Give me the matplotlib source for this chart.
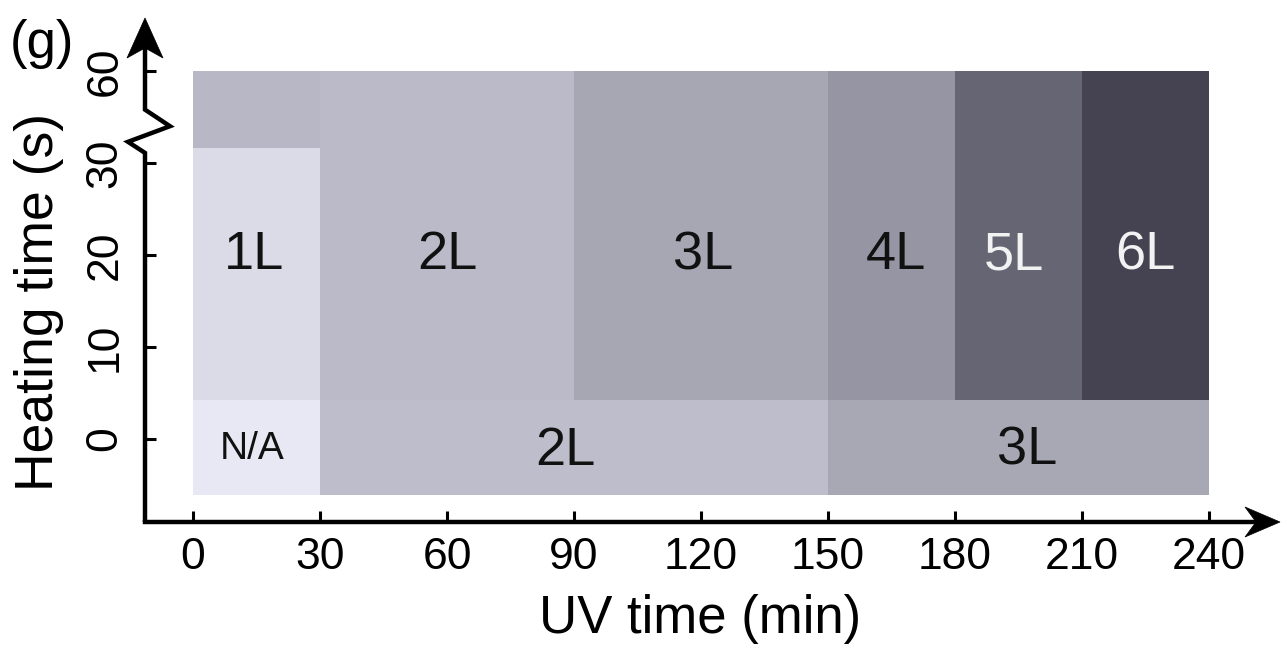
import matplotlib
matplotlib.use("Agg")
import matplotlib.pyplot as plt
import matplotlib.transforms as mtransforms
from matplotlib.patches import Rectangle, Polygon

plt.rcParams["font.family"] = ["Liberation Sans", "DejaVu Sans"]

# UV time edges (min) and heating-time extents (axis units, 60 s drawn at 40)
region_x0 = [0, 0, 30, 90, 150, 180, 210, 0, 30, 150]
region_x1 = [30, 30, 90, 150, 180, 210, 240, 30, 150, 240]
region_y0 = [31.6, 4.2, 4.2, 4.2, 4.2, 4.2, 4.2, -6.1, -6.1, -6.1]
region_y1 = [40, 31.6, 40, 40, 40, 40, 40, 4.2, 4.2, 4.2]
region_colors = ["#b7b7c5", "#dbdbe8", "#babac8", "#a7a7b4", "#9695a3",
                 "#666573", "#454351", "#e8e8f4", "#bdbdcb", "#a8a8b5"]

label_text = ["1L", "2L", "3L", "4L", "5L", "6L", "N/A", "2L", "3L"]
label_x = [14.5, 60, 120.5, 166, 194, 225, 14, 88, 197]
label_y = [20, 20, 20, 20, 20, 20, -1.1, -1.3, -1.3]
label_color = ["#111111"] * 4 + ["#f2f2f2", "#f2f2f2"] + ["#111111"] * 3
label_size = [39, 39, 39, 39, 39, 39, 28, 39, 39]

x_ticks = [0, 30, 60, 90, 120, 150, 180, 210, 240]
y_ticks = [0, 10, 20, 30, 40]
y_tick_labels = ["0", "10", "20", "30", "60"]

W, H = 1281, 651
fig = plt.figure(figsize=(W / 100, H / 100), dpi=100)
ax = fig.add_axes([145 / W, (H - 522) / H, (1280 - 145) / W, (522 - 18) / H])
ax.set_xlim(-11.34, 240 + 71 / 4.233)
ax.set_ylim(-9.02, 45.76)

for x0, x1, y0, y1, c in zip(region_x0, region_x1, region_y0, region_y1, region_colors):
    ax.add_patch(Rectangle((x0, y0), x1 - x0, y1 - y0, facecolor=c, edgecolor="none"))

for t, x, y, c, s in zip(label_text, label_x, label_y, label_color, label_size):
    ax.text(x, y, t, ha="center", va="center", color=c, fontsize=s)

for sp in ax.spines.values():
    sp.set_visible(False)

ax.set_xticks(x_ticks)
ax.set_xticklabels([str(v) for v in x_ticks])
ax.set_yticks(y_ticks)
ax.set_yticklabels(y_tick_labels, rotation=90, va="center")
ax.tick_params(direction="in", length=8, width=2.2, labelsize=32, color="k")
ax.tick_params(axis="x", pad=11)
ax.tick_params(axis="y", pad=14)

lw = 3.2


def arrow_head(anchor, angle):
    # stealth-like head drawn in pixel units, tip at the anchor (axes fraction)
    if angle == 0:
        pts = [(0, 0), (-35, 15), (-24, 0), (-35, -15)]
    else:
        pts = [(0, 0), (-18, -40), (0, -30), (18, -40)]
    tr = fig.dpi_scale_trans + mtransforms.ScaledTranslation(anchor[0], anchor[1], ax.transAxes)
    ax.add_patch(Polygon([(px / 100, py / 100) for px, py in pts], closed=True,
                         facecolor="k", edgecolor="k", lw=0.5, transform=tr,
                         clip_on=False))


# x axis with arrow
ax.plot([0, 1 - 20 / 1135], [0, 0], color="k", lw=lw, transform=ax.transAxes,
        clip_on=False, solid_capstyle="projecting")
arrow_head((1, 0), 0)

# y axis with break
yt = ax.get_yaxis_transform()
ax.plot([0, 0, -0.015, 0.022, 0, 0], [-9.02, 31.1, 32.3, 34.0, 35.8, 44.0],
        color="k", lw=lw, transform=yt, clip_on=False, solid_joinstyle="miter",
        solid_capstyle="butt")
arrow_head((0, 1), 90)

fig.text(700 / W, 1 - 633 / H, "UV time (min)", ha="center", va="baseline",
         fontsize=38)
fig.text(53 / W, 1 - 302 / H, "Heating time (s)", ha="center", va="baseline",
         rotation=90, rotation_mode="anchor", fontsize=38.5)
fig.text(10 / W, 1 - 58 / H, "(g)", ha="left", va="baseline", fontsize=38)

fig.savefig("out.png", dpi=100)
